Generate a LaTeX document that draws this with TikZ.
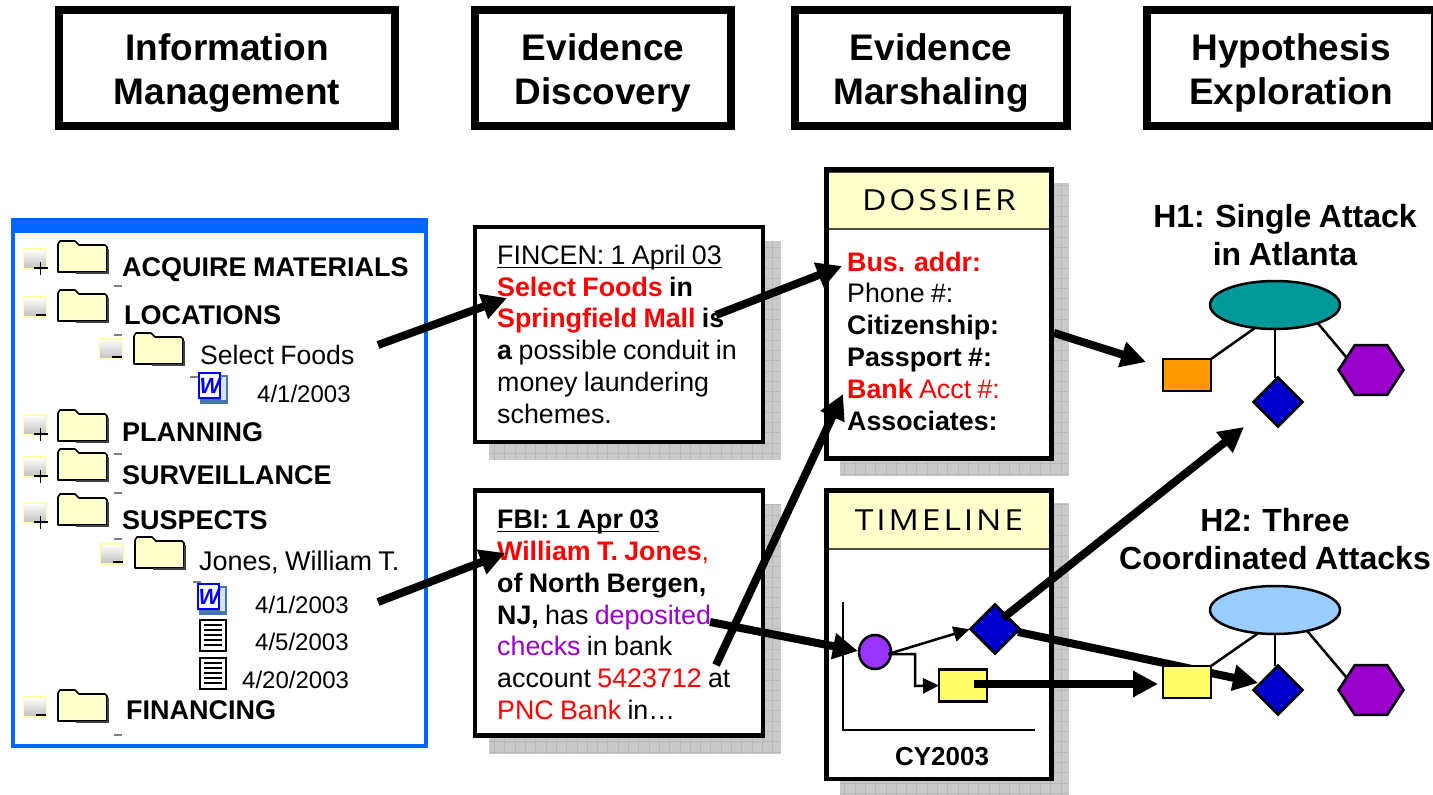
\documentclass[tikz,border=0pt]{standalone}
\usepackage{fontspec}
\setmainfont[WordSpace=0.85]{Liberation Sans}
\newfontfamily\capfont[FakeStretch=1.16,LetterSpace=10]{Open Sans}
\usetikzlibrary{shapes.geometric,arrows.meta}
\definecolor{panelblue}{HTML}{0066FF}
\definecolor{foldercol}{HTML}{FFFFCC}
\definecolor{boxedge}{HTML}{FFFFAA}
\definecolor{shadowcol}{HTML}{C9C9C9}
\definecolor{gridcol}{HTML}{B8B8B8}
\definecolor{wordcol}{HTML}{4477AA}
\definecolor{txtpurple}{HTML}{9900CC}
\definecolor{circpurple}{HTML}{9933FF}
\definecolor{dblue}{HTML}{0000CC}
\definecolor{myyellow}{HTML}{FFFF66}
\definecolor{myorange}{HTML}{FF9900}
\definecolor{myteal}{HTML}{009999}
\definecolor{mysky}{HTML}{99CCFF}
\tikzset{
  x=1pt,y=-1pt,
  hdrbox/.style={draw=black,line width=8pt,fill=white,inner sep=0pt,outer sep=0pt,minimum height=116pt},
  hdrtxt/.style={align=center,inner sep=0pt,font=\fontsize{37}{43.4}\selectfont\bfseries},
  docbox/.style={draw=black,line width=4.5pt,fill=white,inner sep=0pt,outer sep=0pt},
  capbox/.style={draw=black!70!white,line width=1.5pt,fill=foldercol,inner sep=0pt,outer sep=0pt,
    font=\fontsize{29}{34}\selectfont\capfont},
  treebold/.style={anchor=base west,inner sep=0pt,font=\fontsize{27}{32}\selectfont\bfseries},
  treetxt/.style={anchor=base west,inner sep=0pt,font=\fontsize{26.6}{32}\selectfont},
  datetxt/.style={anchor=base west,inner sep=0pt,font=\fontsize{24}{30}\selectfont},
  bodytxt/.style={anchor=north west,inner sep=0pt,align=left,font=\fontsize{26.8}{31.8}\selectfont},
  hyptxt/.style={align=center,inner sep=0pt,font=\fontsize{32}{38}\selectfont\bfseries},
  bigarrow/.style={line width=8pt,-{Triangle[length=25pt,width=25pt]}},
  thinarrow/.style={line width=2.5pt,-{Triangle[length=16pt,width=15pt]}},
  link/.style={line width=2.5pt},
  shp/.style={draw=black,line width=2.5pt,inner sep=0pt,outer sep=0pt},
  rectshp/.style={shp,rectangle,minimum width=48pt,minimum height=32pt},
  diashp/.style={shp,diamond,aspect=1,minimum width=49pt,minimum height=49pt,fill=dblue},
  hexshp/.style={shp,regular polygon,regular polygon sides=6,minimum size=65pt,fill=txtpurple,yscale=.88,transform shape},
  ellshp/.style={shp,ellipse,minimum width=130pt,minimum height=48pt},
}
\newcommand{\ulbox}[1]{\setbox0=\hbox{#1}\rlap{\rule[-3.8pt]{\wd0}{1.6pt}}\box0}
\newcommand{\shadowbox}[4]{%
  \begin{scope}
    \clip (#1,#2) rectangle (#3,#4);
    \fill[shadowcol] (#1,#2) rectangle (#3,#4);
    \draw[gridcol,line width=.6pt,xstep=10.3pt,ystep=10.3pt] (#1,#2) grid (#3,#4);
  \end{scope}}
\newcommand{\folder}[2]{%
  \begin{scope}[shift={(#1,#2)}]
    \draw[fill=foldercol,line width=1.6pt,line join=round]
      (0,31) -- (0,3) -- (2,0) -- (17,0) -- (21,4) -- (47,4) -- (49,6) -- (49,31) -- cycle;
    \draw[line width=1.2pt,black!75] (18,32) -- (50,32) -- (50,8);
  \end{scope}}
\newcommand{\plusbox}[2]{%
  \begin{scope}[shift={(#1,#2)}]
    \shade[top color=white,bottom color=black!25] (0,0) rectangle (23,20);
    \draw[boxedge,line width=1.8pt] (0,0) rectangle (23,20);
    \draw[line width=1.3pt] (10,19) -- (24,19) (17,13) -- (17,26);
  \end{scope}}
\newcommand{\minusbox}[2]{%
  \begin{scope}[shift={(#1,#2)}]
    \shade[top color=white,bottom color=black!25] (0,0) rectangle (23,20);
    \draw[boxedge,line width=1.8pt] (0,0) rectangle (23,20);
    \draw[line width=1.5pt] (12,18) -- (22,18);
  \end{scope}}
\newcommand{\wordicon}[2]{%
  \begin{scope}[shift={(#1,#2)}]
    \fill[wordcol] (1,2) rectangle (29,31);
    \fill[white!80!wordcol] (22,4) rectangle (27,27);
    \draw[blue,line width=1.5pt,fill=white] (0,0) rectangle (21,25);
    \node[inner sep=0pt,text=blue] (w#1x#2) at (11,13) {\fontsize{22}{22}\selectfont\bfseries\itshape W};
  \end{scope}}
\newcommand{\txticon}[2]{%
  \begin{scope}[shift={(#1,#2)}]
    \draw[line width=1.5pt,fill=white] (0,0) rectangle (26,31);
    \foreach \k in {5,10,...,25} \draw[line width=1.4pt] (4,\k) -- (22,\k);
  \end{scope}}
\newcommand{\tick}[2]{\fill[gray] (#1,#2) rectangle ++(8,-2.4);}
\begin{document}
\begin{tikzpicture}
\useasboundingbox (0,0) rectangle (1433,795);
\clip (0,0) rectangle (1433,795);
\fill[white] (0,0) rectangle (1433,795);

% headers
\node[hdrbox,minimum width=336pt] (h1) at (227,68) {};
\node[hdrbox,minimum width=256pt] (h2) at (603,68) {};
\node[hdrbox,minimum width=272pt] (h3) at (931,68) {};
\node[hdrbox,minimum width=288pt] (h4) at (1291,68) {};
\node[hdrtxt] (h1t) at (227,73) {Information\\Management};
\node[hdrtxt] (h2t) at (603,73) {Evidence\\Discovery};
\node[hdrtxt] (h3t) at (931,73) {Evidence\\Marshaling};
\node[hdrtxt] (h4t) at (1291,73) {Hypothesis\\Exploration};

% tree panel
\draw[panelblue,line width=4pt,fill=white] (12.5,222) rectangle (426,746);
\fill[panelblue] (11,218) rectangle (428,233);
\plusbox{23.5}{249}\folder{58}{241}\tick{114}{287}
\node[treebold] (t1) at (122,276) {ACQUIRE MATERIALS};
\minusbox{23.5}{297}\folder{58}{290}\tick{114}{336}
\node[treebold] (t2) at (124,324) {LOCATIONS};
\minusbox{99.5}{339}\folder{134}{333}
\node[treetxt] (t3) at (200,364) {Select Foods};
\tick{190}{378}\wordicon{199}{373}
\node[datetxt] (t4) at (257,402) {4/1/2003};
\plusbox{23.5}{415}\folder{58}{410}
\node[treebold] (t5) at (122,441) {PLANNING};
\tick{114}{455}
\plusbox{23.5}{457}\folder{58}{449}
\node[treebold] (t6) at (122,484) {SURVEILLANCE};
\tick{114}{494}
\plusbox{23.5}{503}\folder{58}{494}
\node[treebold] (t7) at (122,529) {SUSPECTS};
\tick{114}{540}
\minusbox{100.5}{544}\folder{135}{537}
\node[treetxt,font=\fontsize{27}{32}\selectfont] (t8) at (199,570) {Jones,\ William T.};
\tick{193}{583}\wordicon{198}{584}
\node[datetxt] (t9) at (255,613) {4/1/2003};
\txticon{200}{620}
\node[datetxt] (t10) at (255,650) {4/5/2003};
\txticon{200}{658}
\node[datetxt] (t11) at (242,688) {4/20/2003};
\minusbox{23.5}{697}\folder{58}{690}
\node[treebold] (t12) at (126,719) {FINANCING};
\tick{114}{736}

% shadows
\shadowbox{489}{241}{781}{460}
\shadowbox{489}{504}{781}{754}
\shadowbox{840}{183}{1069}{476}
\shadowbox{840}{503}{1069}{795}

% discovery documents
\node[docbox,minimum width=288pt,minimum height=215pt] (fin) at (619,334.5) {};
\node[bodytxt] (fintxt) at (497,244.7) {\ulbox{FINCEN: 1 April 03}\\
  {\bfseries\color{red}Select Foods} \textbf{in}\\
  {\bfseries\color{red}Springfield Mall} \textbf{is}\\
  \textbf{a} possible conduit in\\
  money laundering\\
  schemes.};
\node[docbox,minimum width=288pt,minimum height=245pt] (fbi) at (619,613) {};
\node[bodytxt] (fbitxt) at (497,509.7) {\ulbox{\textbf{FBI: 1 Apr 03}}\\
  {\bfseries\color{red}William T. Jones}{\color{red},}\\
  \textbf{of North Bergen,}\\
  \textbf{NJ,} has {\color{txtpurple}deposited}\\
  {\color{txtpurple}checks} in bank\\
  account {\color{red}5423712} at\\
  {\color{red}PNC Bank} in…};

% dossier
\node[docbox,minimum width=225pt,minimum height=289pt] (dos) at (939,314) {};
\node[capbox,minimum width=221pt,minimum height=57pt] (doscap) at (939,200.5) {DOSSIER};
\draw[black,line width=4.5pt] (826.5,170) rectangle (1051.5,458.5);
\node[bodytxt] (dostxt) at (847,251.5) {{\bfseries\color{red}Bus. addr:}\\
  Phone \#:\\
  \textbf{Citizenship:}\\
  \textbf{Passport \#:}\\
  {\color{red}\textbf{Bank} Acct \#:}\\
  \textbf{Associates:}};

% timeline
\node[docbox,minimum width=225pt,minimum height=289pt] (tim) at (939,634.5) {};
\node[capbox,minimum width=221pt,minimum height=58pt] (timcap) at (939,520) {TIMELINE};
\draw[black,line width=4.5pt] (826.5,490.5) rectangle (1051.5,779);
\coordinate (axt) at (843,602);
\coordinate (axo) at (843,730);
\coordinate (axr) at (1035,730);
\draw[line width=1.8pt] (axt) -- (axo) -- (axr);
\node[shp,ellipse,fill=circpurple,minimum width=32pt,minimum height=34pt] (circ) at (875,652) {};
\node[diashp] (tdia) at (995,629) {};
\node[rectshp,fill=myyellow] (trec) at (963,685.5) {};
\node[inner sep=0pt,font=\fontsize{26}{30}\selectfont\bfseries] (cy) at (942,757) {CY2003};
\draw[thinarrow,shorten >=1pt] (circ.east) ++(-3,2) coordinate (ca) -- (tdia.west);
\draw[thinarrow] (ca) -| (915,686) -- (trec.west);

% arrow behind the H2 shapes
\coordinate (a7s) at (1018,632);
\coordinate (a7e) at (1258,683);
\draw[bigarrow] (a7s) -- (a7e);

% H1
\node[hyptxt] (h1t2) at (1285,235) {H1: Single Attack\\in Atlanta};
\node[ellshp,fill=myteal] (e1) at (1275,305) {};
\node[rectshp,fill=myorange] (r1) at (1187,375) {};
\node[diashp] (d1) at (1278,402) {};
\node[hexshp] (x1) at (1371,370) {};
\draw[link] (e1.229) -- (r1.north east);
\draw[link] (e1.south) -- (1275,378) coordinate (v1);
\draw[link] (e1.-23) -- (x1.150);

% H2
\node[hyptxt] (h2t2) at (1275,539) {H2: Three\\Coordinated Attacks};
\node[ellshp,fill=mysky] (e2) at (1275,610) {};
\node[rectshp,fill=myyellow] (r2) at (1187,682) {};
\node[diashp] (d2) at (1278,690) {};
\node[hexshp] (x2) at (1371,690) {};
\draw[link] (e2.234) -- (r2.north east);
\draw[link] (e2.south) -- (d2.north -| e2.south);
\draw[link] (e2.-33) -- (x2.150);

% big arrows
\coordinate (a1s) at (378,345); \coordinate (a1e) at (507,298);
\coordinate (a2s) at (378,602); \coordinate (a2e) at (505,553);
\coordinate (a3s) at (716,315); \coordinate (a3e) at (842,266);
\coordinate (a4s) at (716,665); \coordinate (a4e) at (843,394);
\coordinate (a5s) at (1054,333); \coordinate (a5e) at (1146,362);
\coordinate (a6s) at (1003,618); \coordinate (a6e) at (1244,427);
\coordinate (a8s) at (974,684); \coordinate (a8e) at (1158,684);
\coordinate (a9s) at (710,622); \coordinate (a9e) at (858,651);
\draw[bigarrow] (a1s) -- (a1e);
\draw[bigarrow] (a2s) -- (a2e);
\draw[bigarrow] (a3s) -- (a3e);
\draw[bigarrow] (a4s) -- (a4e);
\draw[bigarrow] (a5s) -- (a5e);
\draw[bigarrow] (a6s) -- (a6e);
\draw[bigarrow] (a8s) -- (a8e);
\draw[bigarrow] (a9s) -- (a9e);
\end{tikzpicture}
\end{document}
